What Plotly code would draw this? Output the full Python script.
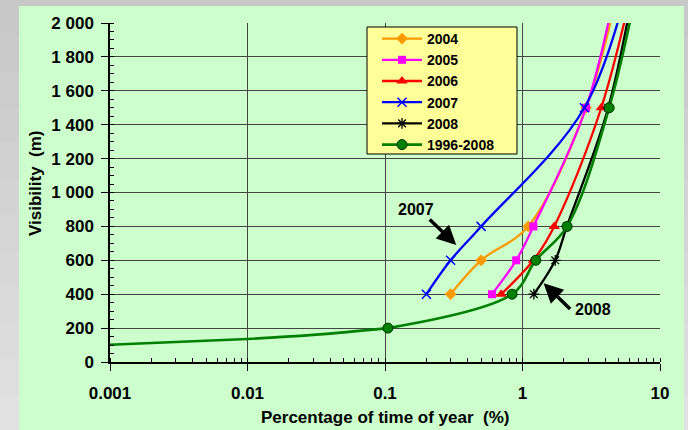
import plotly.graph_objects as go

# Visibility (m) against percentage of time of year (%) per period
vis_levels = [400, 600, 800, 1500, 2400]

pct_2004 = [0.30, 0.50, 1.10, 2.90, 5.6]
pct_2005 = [0.60, 0.90, 1.20, 2.90, 5.3]
pct_2006 = [0.70, 1.20, 1.70, 3.74, 7.1]
pct_2007 = [0.20, 0.30, 0.50, 2.82, 6.6]
pct_2008 = [1.21, 1.73, 2.10, 4.20, 7.1]

vis_all = [200, 400, 600, 800, 1500, 2400]
pct_all = [0.105, 0.84, 1.25, 2.11, 4.27, 7.6]

# low-visibility tail of the 1996-2008 curve (no markers)
tail_pct = [0.0008, 0.003, 0.01, 0.03, 0.105]
tail_vis = [98, 118, 136, 160, 200]

x_ticks = [0.001, 0.01, 0.1, 1, 10]
x_labels = ["0.001", "0.01", "0.1", "1", "10"]
y_ticks = list(range(0, 2001, 200))
y_labels = ["0", "200", "400", "600", "800", "1 000", "1 200", "1 400",
            "1 600", "1 800", "2 000"]

FONT = "Liberation Sans, Arial, sans-serif"
W, H = 688, 430
L, R, T, B = 110, 28, 23, 68
PW, PH = W - L - R, H - T - B


def px_to_paper_x(px):
    return (px - L) / PW


def py_to_paper_y(py):
    return (H - B - py) / PH


fig = go.Figure()

series = [
    ("2004", pct_2004, "#FF9900", dict(symbol="diamond", size=9, color="#FF9900")),
    ("2005", pct_2005, "#FF00FF", dict(symbol="square", size=8, color="#FF00FF")),
    ("2006", pct_2006, "#FF0000", dict(symbol="triangle-up", size=10, color="#FF0000")),
    ("2007", pct_2007, "#0000FF", dict(symbol="x-thin-open", size=9, color="#0000FF",
                                      line=dict(color="#0000FF", width=1.5))),
    ("2008", pct_2008, "#000000", dict(symbol="asterisk-open", size=9, color="#000000",
                                      line=dict(color="#000000", width=1.3))),
]

for name, xs, col, mk in series:
    fig.add_trace(go.Scatter(
        x=xs, y=vis_levels, name=name, mode="lines+markers",
        line=dict(color=col, width=2.3, shape="spline", smoothing=1.0),
        marker=mk,
    ))

fig.add_trace(go.Scatter(
    x=tail_pct, y=tail_vis, mode="lines", showlegend=False,
    line=dict(color="#008000", width=2.6, shape="spline", smoothing=1.0),
    hoverinfo="skip",
))
fig.add_trace(go.Scatter(
    x=pct_all, y=vis_all, name="1996-2008", mode="lines+markers",
    line=dict(color="#008000", width=2.6, shape="spline", smoothing=1.0),
    marker=dict(symbol="circle", size=10, color="#008000",
                line=dict(color="#003300", width=1)),
))

shapes = []
# grey page background with a soft vertical gradient
n_bands = 12
for i in range(n_bands):
    g = int(200 + (225 - 200) * i / (n_bands - 1))
    y0 = i * H / n_bands
    y1 = (i + 1) * H / n_bands + 1
    shapes.append(dict(type="rect", xref="paper", yref="paper", layer="below",
                       x0=px_to_paper_x(-2), x1=px_to_paper_x(W + 2),
                       y0=py_to_paper_y(y1), y1=py_to_paper_y(y0),
                       line=dict(width=0), fillcolor=f"rgb({g},{g},{g})"))
# light green chart panel
shapes.append(dict(type="rect", xref="paper", yref="paper", layer="below",
                   x0=px_to_paper_x(19), x1=px_to_paper_x(684),
                   y0=py_to_paper_y(H + 2), y1=py_to_paper_y(6),
                   line=dict(width=0), fillcolor="#CCFFCC"))
# legend box
shapes.append(dict(type="rect", xref="paper", yref="paper", layer="above",
                   x0=px_to_paper_x(367), x1=px_to_paper_x(517),
                   y0=py_to_paper_y(154), y1=py_to_paper_y(27),
                   line=dict(width=1, color="black"), fillcolor="#FFFF99"))

bold = dict(family=FONT, color="black", weight="bold")

annotations = [
    dict(text="Visibility  (m)", xref="paper", yref="paper",
         x=px_to_paper_x(35), y=py_to_paper_y(183), textangle=-90,
         xanchor="center", yanchor="middle",
         showarrow=False, font=dict(size=17, **bold)),
    dict(text="Percentage of time of year  (%)", xref="paper", yref="paper",
         x=px_to_paper_x(385), y=py_to_paper_y(417), showarrow=False,
         xanchor="center", yanchor="middle",
         font=dict(size=17, **bold)),
    dict(text="2007", x=-0.773, y=897, xref="x", yref="y", showarrow=False,
         font=dict(size=16, **bold)),
    dict(text="", x=-0.482, y=690, xref="x", yref="y", showarrow=True,
         ax=-28, ay=-27, arrowhead=2, arrowsize=1.1, arrowwidth=3.5,
         arrowcolor="black", standoff=0),
    dict(text="2008", x=0.515, y=307, xref="x", yref="y", showarrow=False,
         font=dict(size=16, **bold)),
    dict(text="", x=0.1536, y=464, xref="x", yref="y", showarrow=True,
         ax=28, ay=27, arrowhead=2, arrowsize=1.1, arrowwidth=3.5,
         arrowcolor="black", standoff=0),
]

fig.update_layout(
    width=W, height=H,
    margin=dict(l=L, r=R, t=T, b=B),
    paper_bgcolor="rgb(212,212,212)",
    plot_bgcolor="#CCFFCC",
    font=dict(family=FONT, size=16, color="black"),
    shapes=shapes,
    annotations=annotations,
    showlegend=True,
    legend=dict(
        x=px_to_paper_x(377), y=py_to_paper_y(23), xanchor="left", yanchor="top",
        bgcolor="rgba(0,0,0,0)", borderwidth=0,
        font=dict(size=14, **bold), tracegroupgap=0, itemwidth=40,
    ),
    hovermode=False,
)

fig.update_xaxes(
    type="log", range=[-3, 1],
    tickmode="array", tickvals=x_ticks, ticktext=x_labels,
    tickfont=dict(size=17, **bold),
    ticks="outside", ticklen=7, tickcolor="black", tickwidth=1,
    ticklabelstandoff=8,
    showline=True, linecolor="black", linewidth=1.5,
    showgrid=True, gridcolor="#444444", gridwidth=1,
    minor=dict(ticks="inside", ticklen=4, tickcolor="black", dtick="D1",
               showgrid=False),
    zeroline=False,
)
fig.update_yaxes(
    range=[0, 2000],
    tickmode="array", tickvals=y_ticks, ticktext=y_labels,
    tickfont=dict(size=17, **bold),
    ticks="outside", ticklen=7, tickcolor="black", tickwidth=1,
    ticklabelstandoff=4,
    showline=True, linecolor="black", linewidth=1.5,
    showgrid=True, gridcolor="#444444", gridwidth=1,
    minor=dict(ticks="inside", ticklen=4, tickcolor="black", dtick=50,
               showgrid=False),
    zeroline=False,
)

fig.write_html("out.html")
